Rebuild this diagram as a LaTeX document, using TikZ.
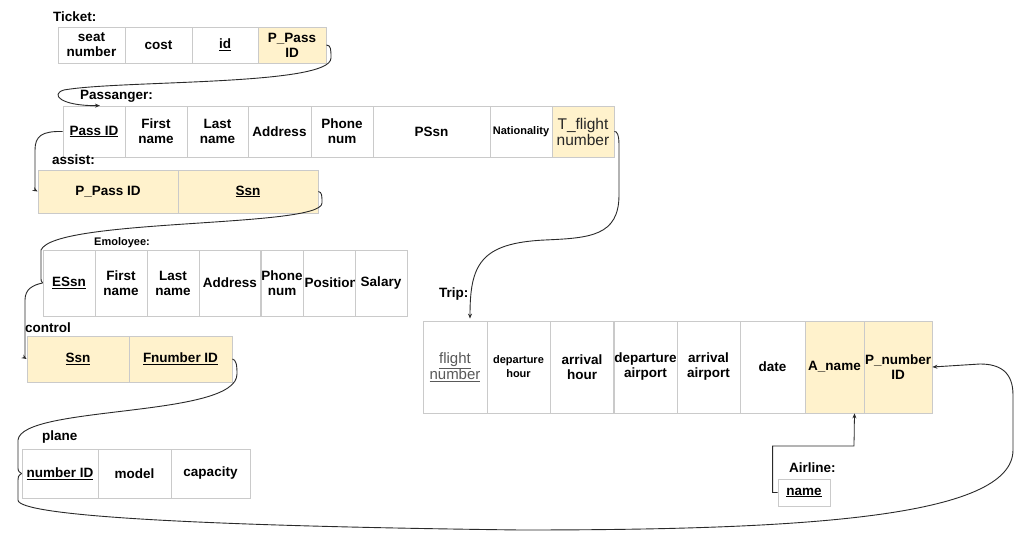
\documentclass[tikz,border=0pt]{standalone}
\usepackage{fontspec}
\setmainfont{Liberation Sans}
\usetikzlibrary{arrows.meta,calc}
\definecolor{cellgray}{HTML}{CACACA}
\definecolor{fkfill}{HTML}{FFF2CC}
\definecolor{linkcol}{HTML}{2A2A2A}
\tikzset{
  cell/.style={draw=cellgray, line width=0.8pt, inner sep=1pt, align=center,
    font=\bfseries\fontsize{13.5}{15}\selectfont, text=black},
  fk/.style={fill=fkfill},
  reg/.style={font=\fontsize{15.5}{16}\selectfont},
  small/.style={font=\bfseries\fontsize{11}{14}\selectfont},
  lbl/.style={font=\bfseries\fontsize{13.5}{15}\selectfont, anchor=west, inner sep=0pt},
  link/.style={draw=linkcol, line width=0.9pt},
  arr/.style={-{Stealth[length=5pt,width=4pt]}}
}
\newcommand\cell[7][]{\node[cell,#1,minimum width={#5pt-#3pt},minimum height={#6pt-#4pt}] (#2) at ({(#3+#5)/2},{(#4+#6)/2}) {#7};}
\begin{document}
\begin{tikzpicture}[x=1pt,y=-1pt]
\useasboundingbox[fill=white] (0,0) rectangle (1034,540);

% Ticket
\node[lbl] (lTicket) at (53,17) {Ticket:};
\cell{tSeat}{58}{27}{125}{63}{seat\\number}
\cell{tCost}{125}{27}{192}{63}{cost}
\cell{tId}{192}{27}{258}{63}{\underline{id}}
\cell[fk]{tPP}{258}{27}{326}{63}{P\_Pass\\ID}

% Passanger
\node[lbl] (lPass) at (80,96) {Passanger:};
\cell{pPassID}{63}{106}{125}{157}{\underline{Pass ID}}
\cell{pFirst}{125}{106}{187}{157}{First\\name}
\cell{pLast}{187}{106}{248}{157}{Last\\name}
\cell{pAddr}{248}{106}{311}{157}{Address}
\cell{pPhone}{311}{106}{373}{157}{Phone\\num}
\cell{pPSsn}{373}{106}{490}{157}{PSsn}
\cell[small]{pNat}{490}{106}{552}{157}{Nationality}
\cell[fk,reg,text=black!85]{pT}{552}{106}{614}{157}{T\_flight\\number}

% assist
\node[lbl] (lAssist) at (52,160) {assist:};
\cell[fk]{aPP}{38}{170}{178}{213}{P\_Pass ID}
\cell[fk]{aSsn}{178}{170}{318}{213}{\underline{Ssn}}

% Employee
\node[lbl,font=\bfseries\fontsize{11}{13}\selectfont] (lEmp) at (94,243) {Emoloyee:};
\cell{eSsn}{43}{250}{95}{316}{\underline{ESsn}}
\cell{eFirst}{95}{250}{147}{316}{First\\name}
\cell{eLast}{147}{250}{199}{316}{Last\\name}
\cell{eAddr}{199}{250}{261}{316}{Address}
\cell{ePhone}{261}{250}{303}{316}{Phone\\num}
\cell{ePos}{303}{250}{355}{316}{}
\begin{scope}
  \clip (303,250) rectangle (355,316);
  \node[font=\bfseries\fontsize{13.5}{15}\selectfont, anchor=west, inner sep=0pt] (ePosTxt) at (304.5,283) {Position};
\end{scope}
\cell{eSal}{355}{250}{407}{316}{Salary}

% control
\node[lbl] (lControl) at (25,328) {control};
\cell[fk]{cSsn}{27}{336}{129}{382}{\underline{Ssn}}
\cell[fk]{cF}{129}{336}{232}{382}{\underline{Fnumber ID}}

% plane
\node[lbl] (lPlane) at (42,437) {plane};
\cell{plN}{22}{449}{98}{498}{\underline{number ID}}
\cell{plModel}{98}{449}{171}{498}{model}
\cell{plCap}{171}{449}{250}{498}{capacity}

% Trip
\node[lbl] (lTrip) at (439,294) {Trip:};
\cell[reg,font=\fontsize{15}{16}\selectfont,text=black!65]{trFlight}{423}{321}{487}{413}{\underline{flight}\\\underline{number}}
\cell[small]{trDepH}{487}{321}{550}{413}{departure\\hour}
\cell{trArrH}{550}{321}{614}{413}{arrival\\hour}
\cell{trDepA}{614}{321}{677}{413}{departure\\airport}
\cell{trArrA}{677}{321}{740}{413}{arrival\\airport}
\cell{trDate}{740}{321}{805}{413}{date}
\cell[fk]{trA}{805}{321}{864}{413}{A\_name}
\cell[fk]{trP}{864}{321}{932}{413}{P\_number\\ID}

% Airline
\node[lbl] (lAir) at (789,468) {Airline:};
\cell{alName}{778}{479}{830}{506}{\underline{name}}

% connectors
\draw[link,arr] (tPP.east) .. controls (331,45) and (331,50) .. (331,58)
  .. controls (331,86) and (120,80) .. (64,90)
  .. controls (50,94) and (60,106) .. ($(pPassID.north)+(6,0)$);
\draw[link,arr] (pPassID.west) .. controls (42,131) and (35,136) .. (35,150)
  -- (35,184) .. controls (35,190) .. (aPP.west);
\draw[link] (aSsn.east) .. controls (322,192) and (322,196) .. (322,203)
  .. controls (322,228) and (55,218) .. (41,250) -- (41,276) .. controls (41,281) .. (eSsn.west);
\draw[link,arr] (eSsn.west) .. controls (33,285) and (25,289) .. (25,300)
  -- (25,352) .. controls (25,358) .. (cSsn.west);
\draw[link] (cF.east) .. controls (236,360) and (237,364) .. (237,374)
  .. controls (237,418) and (22,405) .. (18,440) -- (18,466) .. controls (18,471) .. (plN.west);
\draw[link,arr] (plN.west) .. controls (18,476) .. (18,484) -- (18,500)
  .. controls (18,516) and (200,526) .. (520,530)
  .. controls (800,530) and (1013,518) .. (1013,450)
  -- (1013,395) .. controls (1013,372) and (1000,364) .. (980,364) -- (trP.east);
\draw[link,arr] (pT.east) .. controls (617,131) and (619,135) .. (619,145)
  -- (619,195) .. controls (619,236) and (590,238) .. (545,240)
  .. controls (480,243) and (470,265) .. ($(trFlight.north)+(15,-2)$);
\coordinate (aTip) at ($(trA.south)+(20,0)$);
\draw[link,arr,line width=0.8pt] (alName.west) -- ++(-5,0) |- (854,446) -- (aTip);
\end{tikzpicture}
\end{document}
